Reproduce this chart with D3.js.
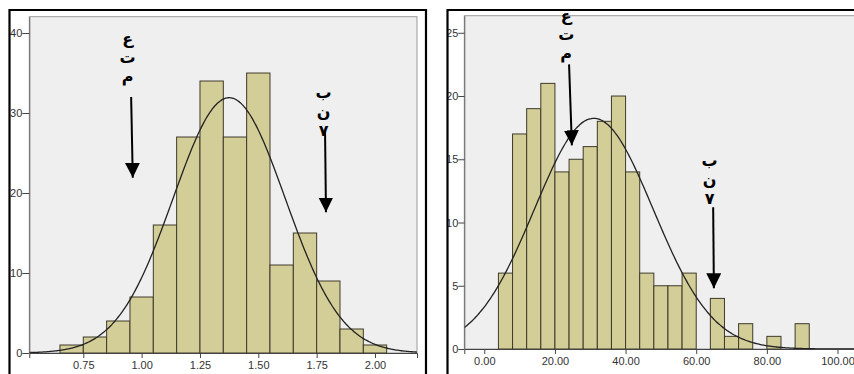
<!DOCTYPE html>
<html>
<head>
<meta charset="utf-8">
<script src="https://cdn.jsdelivr.net/npm/d3@7"></script>
<style>
  body { margin: 0; background: #fff; }
  svg { display: block; }
  .tick text { font-family: "Liberation Sans", Arial, sans-serif; font-size: 11px; fill: #333; }
</style>
</head>
<body>
<div id="plot-container"></div>
<script>
// left histogram: bins of 0.1
const leftBinStart = [0.65, 0.75, 0.85, 0.95, 1.05, 1.15, 1.25, 1.35, 1.45, 1.55, 1.65, 1.75, 1.85, 1.95];
const leftCounts = [1, 2, 4, 7, 16, 27, 34, 27, 35, 11, 15, 9, 3, 1];
const leftBinWidth = 0.1;
const leftMean = 1.375;
const leftSd = 0.24;
const leftXTicks = [0.75, 1.00, 1.25, 1.50, 1.75, 2.00];
const leftYTicks = [0, 10, 20, 30, 40];

// right histogram: bins of 4
const rightBinStart = [4, 8, 12, 16, 20, 24, 28, 32, 36, 40, 44, 48, 52, 56, 60, 64, 68, 72, 76, 80, 84, 88];
const rightCounts = [6, 17, 19, 21, 14, 15, 16, 18, 20, 14, 6, 5, 5, 6, 0, 4, 1, 2, 0, 1, 0, 2];
const rightBinWidth = 4;
const rightMean = 31;
const rightSd = 16.8;
const rightXTicks = [0, 20, 40, 60, 80, 100];
const rightYTicks = [0, 5, 10, 15, 20, 25];

// annotations (data coordinates): label glyphs stacked vertically + arrow
const leftNotes = [
  { glyphs: ['ع', 'ت', 'م'], tx: 0.94, ty: 40.4, x1: 0.955, y1: 32, x2: 0.962, y2: 21.9 },
  { glyphs: ['ب', 'ن', '٧'], tx: 1.78, ty: 33.6, x1: 1.786, y1: 27.6, x2: 1.79, y2: 17.6 }
];
const rightNotes = [
  { glyphs: ['ع', 'ت', 'م'], tx: 23.2, ty: 27.0, x1: 24.0, y1: 22.5, x2: 24.8, y2: 16.1 },
  { glyphs: ['ب', 'ن', '٧'], tx: 63.8, ty: 15.6, x1: 64.8, y1: 11.2, x2: 65.0, y2: 4.8 }
];

const W = 854, H = 374;
const svg = d3.select('#plot-container').append('svg')
  .attr('width', W).attr('height', H);

const defs = svg.append('defs');
defs.append('marker')
  .attr('id', 'head')
  .attr('viewBox', '0 0 10 10')
  .attr('refX', 10).attr('refY', 5)
  .attr('markerWidth', 15).attr('markerHeight', 15)
  .attr('markerUnits', 'userSpaceOnUse')
  .attr('orient', 'auto')
  .append('path').attr('d', 'M0,0 L10,5 L0,10 Z').attr('fill', '#000');

function normal(x, mean, sd, n, bw) {
  return n * bw / (sd * Math.sqrt(2 * Math.PI)) * Math.exp(-0.5 * ((x - mean) / sd) ** 2);
}

function panel(cfg) {
  const g = svg.append('g');
  const clipId = 'clip' + cfg.id;
  defs.append('clipPath').attr('id', clipId)
    .append('rect').attr('x', cfg.frame[0]).attr('y', cfg.frame[1])
    .attr('width', cfg.frame[2] - cfg.frame[0]).attr('height', H - cfg.frame[1]);
  const root = g.append('g').attr('clip-path', `url(#${clipId})`);

  const x = d3.scaleLinear().domain(cfg.xDomain).range([cfg.plot[0], cfg.plot[2]]);
  const y = d3.scaleLinear().domain(cfg.yDomain).range([cfg.plot[3], cfg.plot[1]]);

  root.append('rect')
    .attr('x', cfg.plot[0]).attr('y', cfg.plot[1])
    .attr('width', cfg.plot[2] - cfg.plot[0]).attr('height', cfg.plot[3] - cfg.plot[1])
    .attr('fill', '#efefef').attr('stroke', '#9a9a9a').attr('stroke-width', 1);

  const bars = cfg.starts.map((s, i) => ({ s, c: cfg.counts[i] })).filter(d => d.c > 0);
  root.append('g').selectAll('rect').data(bars).enter().append('rect')
    .attr('x', d => x(d.s))
    .attr('y', d => y(d.c))
    .attr('width', d => x(d.s + cfg.bw) - x(d.s))
    .attr('height', d => y(0) - y(d.c))
    .attr('fill', '#d3cd98')
    .attr('stroke', '#3e3a2a')
    .attr('stroke-width', 1);

  const n = d3.sum(cfg.counts);
  const pts = d3.range(0, 301).map(i => {
    const v = cfg.xDomain[0] + (cfg.xDomain[1] - cfg.xDomain[0]) * i / 300;
    return [v, normal(v, cfg.mean, cfg.sd, n, cfg.bw)];
  });
  root.append('path')
    .attr('d', d3.line().x(d => x(d[0])).y(d => y(d[1])).curve(d3.curveBasis)(pts))
    .attr('fill', 'none').attr('stroke', '#222').attr('stroke-width', 1.3);

  const xAxis = root.append('g').attr('transform', `translate(0,${cfg.plot[3]})`)
    .call(d3.axisBottom(x).tickValues(cfg.xTicks).tickSize(5).tickPadding(3).tickFormat(d3.format('.2f')));
  xAxis.select('.domain').attr('stroke', '#444');
  xAxis.selectAll('.tick line').attr('stroke', '#444');

  const yAxis = root.append('g').attr('transform', `translate(${cfg.plot[0]},0)`)
    .call(d3.axisLeft(y).tickValues(cfg.yTicks).tickSize(cfg.ytickSize).tickPadding(0).tickSizeOuter(0));
  yAxis.select('.domain').attr('stroke', '#666');
  yAxis.selectAll('.tick line').attr('stroke', '#444');

  cfg.notes.forEach(nt => {
    root.append('g').selectAll('text').data(nt.glyphs).enter().append('text')
      .attr('font-family', '"DejaVu Sans", "Noto Sans", sans-serif')
      .attr('font-size', 16).attr('font-weight', 'bold').attr('fill', '#000').attr('text-anchor', 'middle')
      .attr('x', x(nt.tx))
      .attr('y', (d, i) => y(nt.ty) + 14 + i * 19)
      .text(d => d);
    root.append('line')
      .attr('x1', x(nt.x1)).attr('y1', y(nt.y1))
      .attr('x2', x(nt.x2)).attr('y2', y(nt.y2))
      .attr('stroke', '#000').attr('stroke-width', 2)
      .attr('marker-end', 'url(#head)');
  });

  // outer frame
  const f = cfg.frame;
  g.append('path')
    .attr('d', `M${f[0]},${H + 2} L${f[0]},${f[1]} L${f[2]},${f[1]} L${f[2]},${H + 2}`)
    .attr('fill', 'none').attr('stroke', '#000').attr('stroke-width', 2.2);
}

panel({
  id: 'L', frame: [9.5, 10, 426, 0], plot: [29.3, 16.7, 417, 353], ytickSize: 7,
  xDomain: [0.5186, 2.18], yDomain: [0, 42.04],
  starts: leftBinStart, counts: leftCounts, bw: leftBinWidth,
  mean: leftMean, sd: leftSd, xTicks: leftXTicks, yTicks: leftYTicks, notes: leftNotes
});

panel({
  id: 'R', frame: [447.5, 10, 870, 0], plot: [464.3, 15.7, 870, 349], ytickSize: 6,
  xDomain: [-5.66, 109.2], yDomain: [0, 26.35],
  starts: rightBinStart, counts: rightCounts, bw: rightBinWidth,
  mean: rightMean, sd: rightSd, xTicks: rightXTicks, yTicks: rightYTicks, notes: rightNotes
});
</script>
</body>
</html>
